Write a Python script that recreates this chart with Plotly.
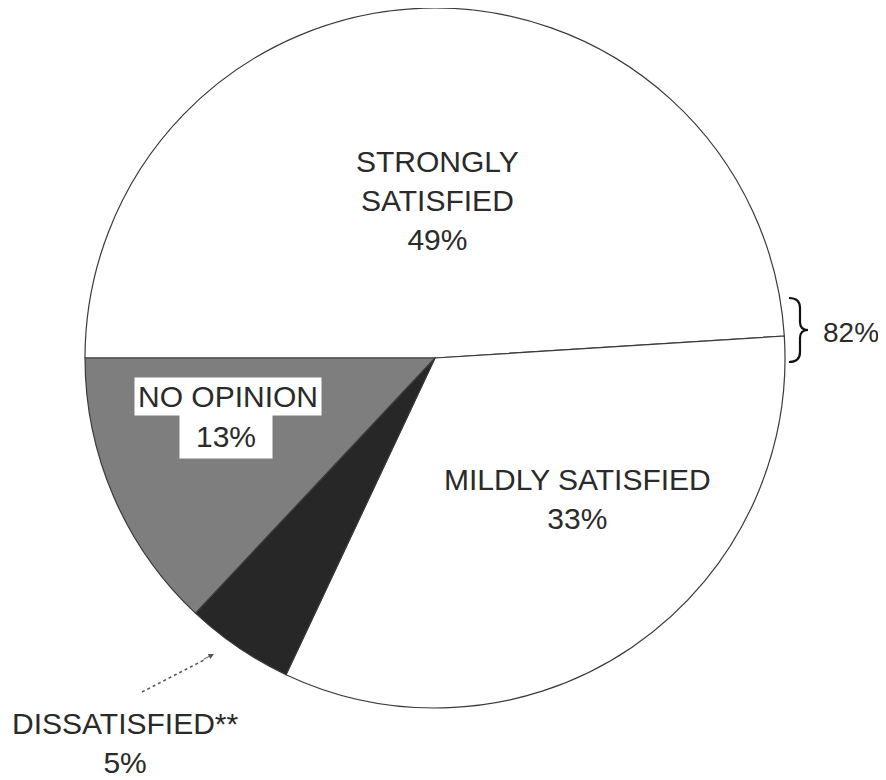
import plotly.graph_objects as go

# ---- data ----
categories = ["STRONGLY SATISFIED", "MILDLY SATISFIED", "DISSATISFIED**", "NO OPINION"]
values = [49, 33, 5, 13]
slice_colors = ["#ffffff", "#ffffff", "#272727", "#7e7e7e"]
bracket_label = "82%"

# page offset of the figure (browser body margin)
OFF = 8
FW, FH = 878, 772
ML, MT, PW, PH = 77, 0, 700, 700
MR, MB = FW - ML - PW, FH - MT - PH


def px(x):
    return (x - OFF - ML) / PW


def py(y):
    return (MT + PH - (y - OFF)) / PH


fig = go.Figure(go.Pie(
    labels=categories,
    values=values,
    sort=False,
    direction="clockwise",
    rotation=-90,
    textinfo="none",
    hoverinfo="label+percent",
    marker=dict(colors=slice_colors, line=dict(color="#3a3a3a", width=1.2)),
    showlegend=False,
))

FONT = "Liberation Sans, Arial, sans-serif"
font_main = dict(family=FONT, size=30, color="#2a2a2a")

ann = []
# Strongly satisfied
ann.append(dict(x=px(437), y=py(201), text="STRONGLY<br>SATISFIED<br>%d%%" % values[0],
                font=font_main))
# Mildly satisfied
ann.append(dict(x=px(577), y=py(499), text="MILDLY SATISFIED<br>%d%%" % values[1],
                font=font_main))
# No opinion (white boxes)
ann.append(dict(x=px(227.5), y=py(396.5), text="NO OPINION", width=186, height=37,
                font=font_main, bgcolor="#ffffff", borderpad=0))
ann.append(dict(x=px(226), y=py(436.5), text="%d%%" % values[3], width=92, height=43,
                font=font_main, bgcolor="#ffffff", borderpad=0))
# Dissatisfied (outside)
ann.append(dict(x=px(125), y=py(743), text="DISSATISFIED**<br>%d%%" % values[2],
                font=font_main))
# bracket label
ann.append(dict(x=px(821), y=py(332), text=bracket_label, xanchor="left",
                font=dict(family=FONT, size=28, color="#2a2a2a")))

for a in ann:
    a.setdefault("xref", "paper")
    a.setdefault("yref", "paper")
    a.setdefault("xanchor", "center")
    a.setdefault("yanchor", "middle")
    a.setdefault("align", "center")
    a.setdefault("showarrow", False)

# arrow head for the dissatisfied pointer
ann.append(dict(x=px(214), y=py(654), ax=-12, ay=6, axref="pixel", ayref="pixel",
                xref="paper", yref="paper", text="", showarrow=True, arrowhead=2,
                arrowsize=1.1, arrowwidth=1, arrowcolor="#555"))

shapes = [
    dict(type="line", xref="paper", yref="paper", x0=px(142), y0=py(692), x1=px(204), y1=py(660),
         line=dict(color="#555", width=1.5, dash="dot")),
    dict(type="path", xref="paper", yref="paper",
         path="M %f,%f Q %f,%f %f,%f L %f,%f Q %f,%f %f,%f Q %f,%f %f,%f L %f,%f Q %f,%f %f,%f" % (
             px(789), py(298), px(800), py(298), px(800), py(308),
             px(800), py(322),
             px(800), py(330), px(808), py(330),
             px(800), py(330), px(800), py(338),
             px(800), py(352),
             px(800), py(362), px(789), py(362)),
         line=dict(color="#111", width=2.2)),
]

fig.update_layout(
    width=FW, height=FH,
    margin=dict(l=ML, r=MR, t=MT, b=MB, pad=0),
    paper_bgcolor="#ffffff",
    plot_bgcolor="#ffffff",
    annotations=ann,
    shapes=shapes,
)

fig.write_html("out.html")
